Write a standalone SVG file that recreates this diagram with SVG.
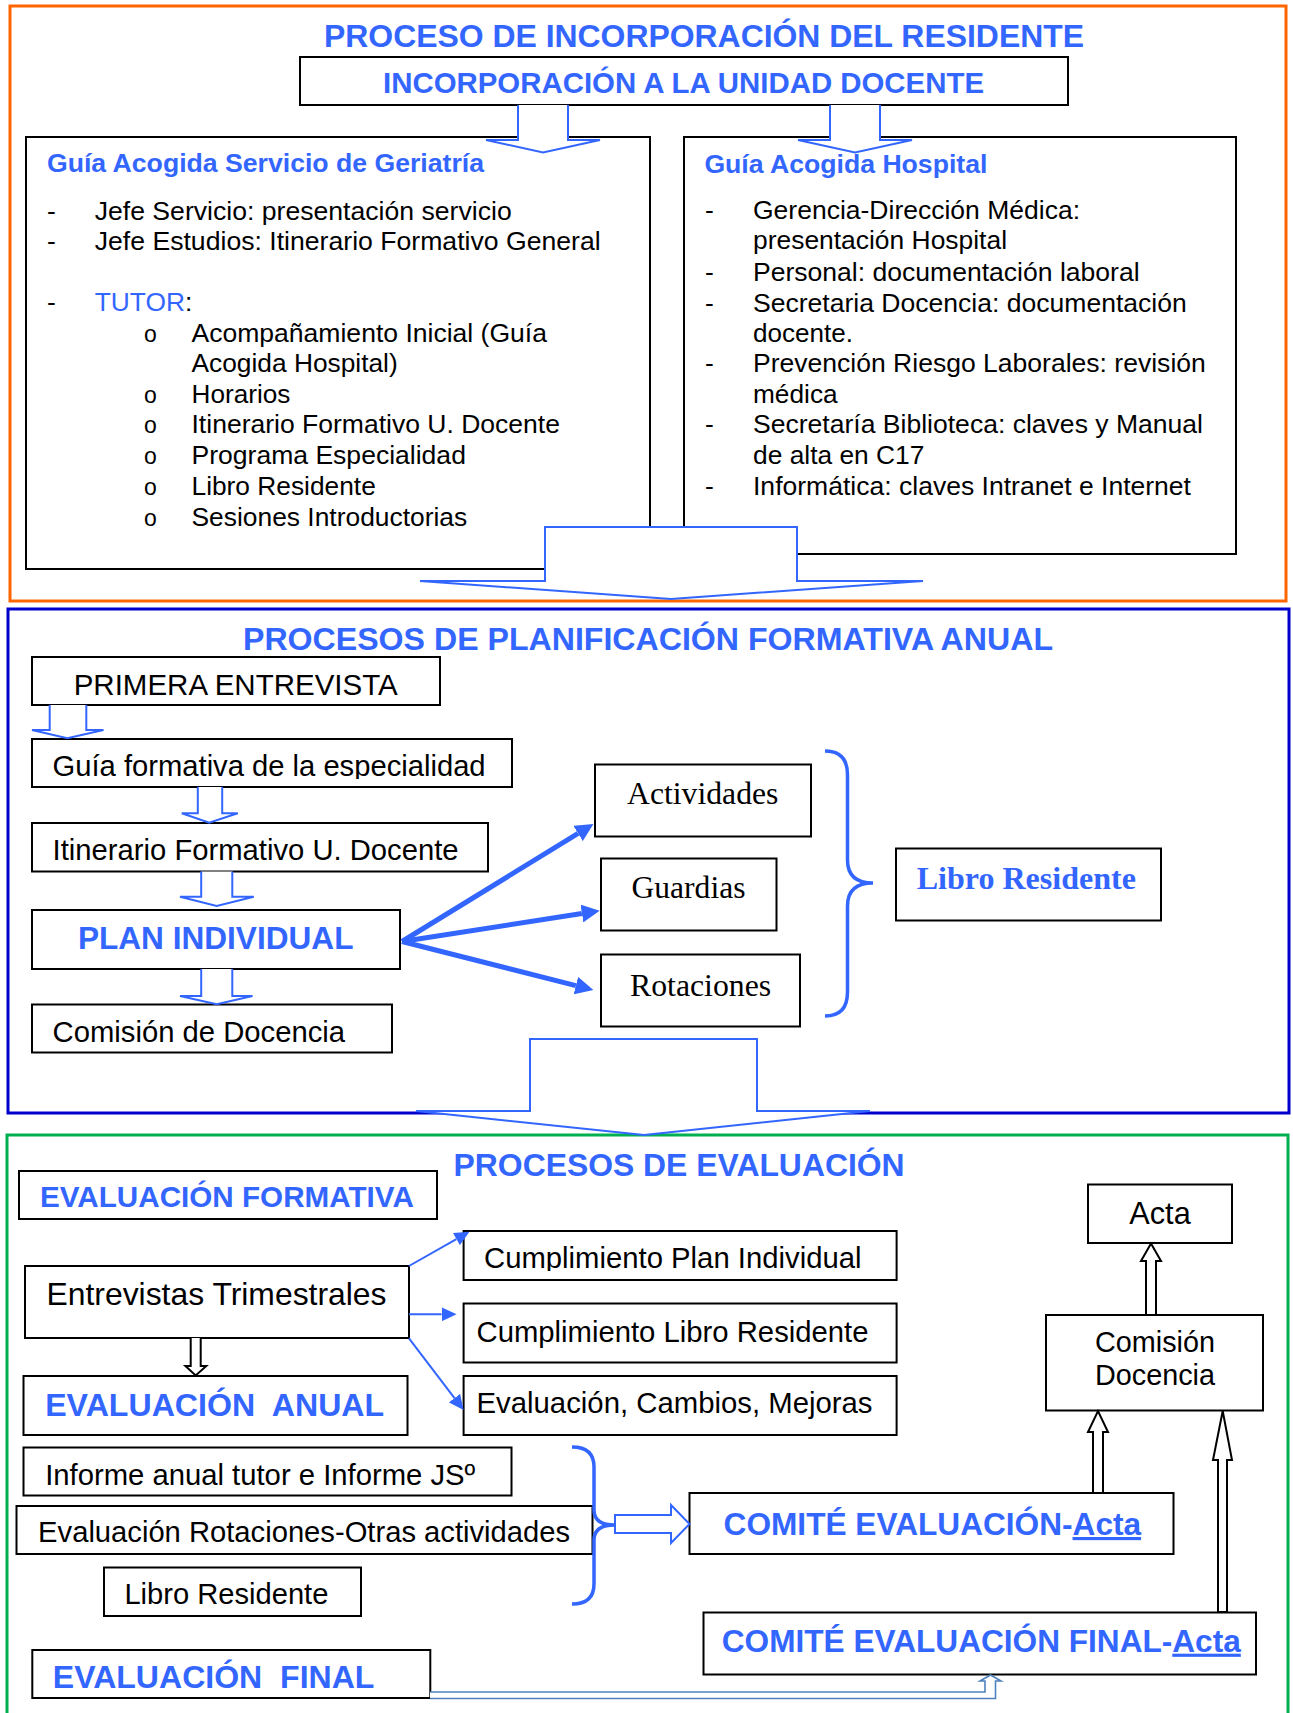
<svg xmlns="http://www.w3.org/2000/svg" width="1293" height="1713" viewBox="0 0 1293 1713">
  <style>
    .t { font-family: "Liberation Sans", Arial, sans-serif; fill: #000; }
    .s { font-family: "Liberation Serif", "Times New Roman", serif; fill: #000; }
    .b { font-weight: bold; fill: #3366FF; }
    .sb { font-weight: bold; fill: #3366FF; }
    .blue { fill: #3366FF; }
    .box { fill: #fff; stroke: #000; stroke-width: 2; }
    .frame { fill: none; stroke-width: 3; }
    .barrow { fill: #fff; stroke: #3366FF; stroke-width: 2; stroke-linejoin: miter; }
    .karrow { fill: #fff; stroke: #000; stroke-width: 2; stroke-linejoin: miter; }
    .brace { fill: none; stroke: #3366FF; stroke-width: 3.5; stroke-linecap: butt; }
    .thick { stroke: #3366FF; stroke-width: 5; fill: none; }
    .thin { stroke: #3366FF; stroke-width: 2; fill: none; }
    .u { text-decoration: underline; }
    .f26 { font-size: 26.4px; }
    .f29 { font-size: 29.2px; }
    text { lengthAdjust: spacingAndGlyphs; }
  </style>
  <defs>
    <marker id="headThick" markerUnits="userSpaceOnUse" markerWidth="19" markerHeight="18" refX="0" refY="9" orient="auto">
      <path d="M0,0 L18,9 L0,18 Z" fill="#3366FF"/>
    </marker>
    <marker id="headThin" markerUnits="userSpaceOnUse" markerWidth="16" markerHeight="14" refX="0" refY="7" orient="auto">
      <path d="M0,0 L15,7 L0,14 Z" fill="#3366FF"/>
    </marker>
    <clipPath id="clipGuia"><rect x="32" y="739" width="480" height="40"/></clipPath>
    <clipPath id="clipCumpl"><rect x="463" y="1231" width="434" height="40"/></clipPath>
  </defs>

  <rect width="1293" height="1713" fill="#fff"/>

  <!-- section frames -->
  <rect class="frame" x="10" y="6" width="1276" height="595" stroke="#FF6600"/>
  <rect class="frame" x="8" y="609" width="1281" height="504" stroke="#0000CC"/>
  <rect class="frame" x="7" y="1135" width="1281" height="600" stroke="#00B050"/>

  <!-- section titles -->
  <text class="t b" x="324" y="47" font-size="31.8" textLength="760" lengthAdjust="spacingAndGlyphs">PROCESO DE INCORPORACIÓN DEL RESIDENTE</text>
  <text class="t b" x="243" y="650" font-size="31.5" textLength="810" lengthAdjust="spacingAndGlyphs">PROCESOS DE PLANIFICACIÓN FORMATIVA ANUAL</text>
  <text class="t b" x="453.6" y="1176" font-size="31.7" textLength="451" lengthAdjust="spacingAndGlyphs">PROCESOS DE EVALUACIÓN</text>

  <!-- ===== Incorporación ===== -->
  <g id="unidad-docente">
    <rect class="box" x="300" y="57" width="768" height="48"/>
    <text class="t b" x="383" y="93" font-size="29.2" textLength="601" lengthAdjust="spacingAndGlyphs">INCORPORACIÓN A LA UNIDAD DOCENTE</text>
  </g>

  <g id="guia-geriatria">
    <rect class="box" x="26" y="137" width="624" height="432"/>
    <text class="t b" x="47" y="171.5" font-size="26.5" textLength="437" lengthAdjust="spacingAndGlyphs">Guía Acogida Servicio de Geriatría</text>
    <g class="t f26">
      <text x="47" y="220">-</text>
      <text x="94.7" y="220" textLength="417" lengthAdjust="spacingAndGlyphs">Jefe Servicio: presentación servicio</text>
      <text x="47" y="249.5">-</text>
      <text x="94.7" y="249.5" textLength="506" lengthAdjust="spacingAndGlyphs">Jefe Estudios: Itinerario Formativo General</text>
      <text x="47" y="311">-</text>
      <text x="94.7" y="311" textLength="97.6" lengthAdjust="spacingAndGlyphs"><tspan class="blue">TUTOR</tspan>:</text>
      <text x="144" y="341.7" font-size="23">o</text>
      <text x="191.5" y="341.7" textLength="355.5" lengthAdjust="spacingAndGlyphs">Acompañamiento Inicial (Guía</text>
      <text x="191.5" y="372.3" textLength="206.2" lengthAdjust="spacingAndGlyphs">Acogida Hospital)</text>
      <text x="144" y="402.7" font-size="23">o</text>
      <text x="191.5" y="402.7" textLength="98.9" lengthAdjust="spacingAndGlyphs">Horarios</text>
      <text x="144" y="433.3" font-size="23">o</text>
      <text x="191.5" y="433.3" textLength="368.5" lengthAdjust="spacingAndGlyphs">Itinerario Formativo U. Docente</text>
      <text x="144" y="464.3" font-size="23">o</text>
      <text x="191.5" y="464.3" textLength="274.4" lengthAdjust="spacingAndGlyphs">Programa Especialidad</text>
      <text x="144" y="495" font-size="23">o</text>
      <text x="191.5" y="495" textLength="184.3" lengthAdjust="spacingAndGlyphs">Libro Residente</text>
      <text x="144" y="525.5" font-size="23">o</text>
      <text x="191.5" y="525.5" textLength="275.7" lengthAdjust="spacingAndGlyphs">Sesiones Introductorias</text>
    </g>
  </g>

  <g id="guia-hospital">
    <rect class="box" x="684" y="137" width="552" height="417"/>
    <text class="t b" x="704.4" y="172.5" font-size="26.5" textLength="283" lengthAdjust="spacingAndGlyphs">Guía Acogida Hospital</text>
    <g class="t f26">
      <text x="705" y="219.3">-</text>
      <text x="753" y="219.3" textLength="327" lengthAdjust="spacingAndGlyphs">Gerencia-Dirección Médica:</text>
      <text x="753" y="249.3" textLength="254" lengthAdjust="spacingAndGlyphs">presentación Hospital</text>
      <text x="705" y="280.7">-</text>
      <text x="753" y="280.7" textLength="386.6" lengthAdjust="spacingAndGlyphs">Personal: documentación laboral</text>
      <text x="705" y="311.7">-</text>
      <text x="753" y="311.7" textLength="433.8" lengthAdjust="spacingAndGlyphs">Secretaria Docencia: documentación</text>
      <text x="753" y="341.7" textLength="100" lengthAdjust="spacingAndGlyphs">docente.</text>
      <text x="705" y="372.3">-</text>
      <text x="753" y="372.3" textLength="452.8" lengthAdjust="spacingAndGlyphs">Prevención Riesgo Laborales: revisión</text>
      <text x="753" y="402.7" textLength="84.6" lengthAdjust="spacingAndGlyphs">médica</text>
      <text x="705" y="433.3">-</text>
      <text x="753" y="433.3" textLength="450" lengthAdjust="spacingAndGlyphs">Secretaría Biblioteca: claves y Manual</text>
      <text x="753" y="464.3" textLength="171.4" lengthAdjust="spacingAndGlyphs">de alta en C17</text>
      <text x="705" y="495">-</text>
      <text x="753" y="495" textLength="438" lengthAdjust="spacingAndGlyphs">Informática: claves Intranet e Internet</text>
    </g>
  </g>

  <!-- ===== Planificación ===== -->
  <g id="primera-entrevista">
    <rect class="box" x="32" y="657" width="408" height="48"/>
    <text class="t f29" x="73.7" y="695" textLength="324" lengthAdjust="spacingAndGlyphs">PRIMERA ENTREVISTA</text>
  </g>
  <g id="guia-formativa">
    <rect class="box" x="32" y="739" width="480" height="48"/>
    <text class="t f29" x="52.6" y="776" textLength="433" lengthAdjust="spacingAndGlyphs" clip-path="url(#clipGuia)">Guía formativa de la especialidad</text>
  </g>
  <g id="itinerario">
    <rect class="box" x="32" y="823" width="456" height="48.5"/>
    <text class="t f29" x="52.6" y="860" textLength="406" lengthAdjust="spacingAndGlyphs">Itinerario Formativo U. Docente</text>
  </g>
  <g id="plan-individual">
    <rect class="box" x="32" y="910" width="368" height="59"/>
    <text class="t b" x="77.9" y="949.3" font-size="31.7" textLength="275.6" lengthAdjust="spacingAndGlyphs">PLAN INDIVIDUAL</text>
  </g>
  <g id="comision-docencia-plan">
    <rect class="box" x="32" y="1004.5" width="360" height="48"/>
    <text class="t f29" x="52.6" y="1041.7" textLength="292.5" lengthAdjust="spacingAndGlyphs">Comisión de Docencia</text>
  </g>
  <g id="actividades">
    <rect class="box" x="595" y="764.5" width="216" height="72"/>
    <text class="s" x="627" y="804" font-size="31.4" textLength="151.4" lengthAdjust="spacingAndGlyphs">Actividades</text>
  </g>
  <g id="guardias">
    <rect class="box" x="601" y="858.5" width="175.5" height="72"/>
    <text class="s" x="631.5" y="898.3" font-size="31.4" textLength="114" lengthAdjust="spacingAndGlyphs">Guardias</text>
  </g>
  <g id="rotaciones">
    <rect class="box" x="601" y="954.5" width="199" height="72"/>
    <text class="s" x="630" y="996" font-size="31.6" textLength="141.2" lengthAdjust="spacingAndGlyphs">Rotaciones</text>
  </g>
  <g id="libro-residente-plan">
    <rect class="box" x="896" y="848.5" width="265" height="72"/>
    <text class="s sb" x="916.7" y="889.3" font-size="32" textLength="219.3" lengthAdjust="spacingAndGlyphs">Libro Residente</text>
  </g>

  <!-- ===== Evaluación ===== -->
  <g id="evaluacion-formativa">
    <rect class="box" x="19" y="1171" width="418" height="48"/>
    <text class="t b" x="40" y="1207.3" font-size="29.1" textLength="373.8" lengthAdjust="spacingAndGlyphs">EVALUACIÓN FORMATIVA</text>
  </g>
  <g id="entrevistas">
    <rect class="box" x="25" y="1266" width="384" height="72"/>
    <text class="t" x="46.5" y="1305" font-size="31.7" textLength="340" lengthAdjust="spacingAndGlyphs">Entrevistas Trimestrales</text>
  </g>
  <g id="evaluacion-anual">
    <rect class="box" x="23.5" y="1376" width="384" height="59"/>
    <text class="t b" x="45.2" y="1416" font-size="31.8" textLength="339" lengthAdjust="spacingAndGlyphs">EVALUACIÓN&#160; ANUAL</text>
  </g>
  <g id="cumplimiento-plan">
    <rect class="box" x="463.6" y="1231" width="433" height="49"/>
    <text class="t" x="484" y="1268.3" font-size="29.3" textLength="377.5" lengthAdjust="spacingAndGlyphs" clip-path="url(#clipCumpl)">Cumplimiento Plan Individual</text>
  </g>
  <g id="cumplimiento-libro">
    <rect class="box" x="463.6" y="1303.5" width="433" height="59"/>
    <text class="t" x="476.5" y="1341.7" font-size="29.3" textLength="392" lengthAdjust="spacingAndGlyphs">Cumplimiento Libro Residente</text>
  </g>
  <g id="evaluacion-cambios">
    <rect class="box" x="463.6" y="1376" width="433" height="59"/>
    <text class="t" x="476.5" y="1412.5" font-size="29.3" textLength="396" lengthAdjust="spacingAndGlyphs">Evaluación, Cambios, Mejoras</text>
  </g>
  <g id="informe-anual">
    <rect class="box" x="23.5" y="1447.5" width="488" height="48"/>
    <text class="t f29" x="45.2" y="1485" textLength="430" lengthAdjust="spacingAndGlyphs">Informe anual tutor e Informe JSº</text>
  </g>
  <g id="evaluacion-rotaciones">
    <rect class="box" x="16.5" y="1506" width="576" height="48"/>
    <text class="t" x="38.1" y="1541.7" font-size="29.3" textLength="532" lengthAdjust="spacingAndGlyphs">Evaluación Rotaciones-Otras actividades</text>
  </g>
  <g id="libro-residente-eval">
    <rect class="box" x="104" y="1567.5" width="257" height="48.5"/>
    <text class="t f29" x="124.4" y="1604" textLength="204" lengthAdjust="spacingAndGlyphs">Libro Residente</text>
  </g>
  <g id="comite-evaluacion">
    <rect class="box" x="689.5" y="1493" width="484" height="61"/>
    <text class="t b" x="723.6" y="1535" font-size="31.5" textLength="417.5" lengthAdjust="spacingAndGlyphs">COMITÉ EVALUACIÓN-<tspan class="u">Acta</tspan></text>
  </g>
  <g id="comite-final">
    <rect class="box" x="703.5" y="1612.5" width="552.5" height="62"/>
    <text class="t b" x="721.8" y="1651.7" font-size="31.5" textLength="519" lengthAdjust="spacingAndGlyphs">COMITÉ EVALUACIÓN FINAL-<tspan class="u">Acta</tspan></text>
  </g>
  <g id="evaluacion-final">
    <rect class="box" x="32.3" y="1650" width="398" height="48"/>
    <text class="t b" x="52.8" y="1688.3" font-size="31.8" textLength="321.6" lengthAdjust="spacingAndGlyphs">EVALUACIÓN&#160; FINAL</text>
  </g>
  <g id="comision-docencia">
    <rect class="box" x="1046" y="1315" width="217" height="95.5"/>
    <text class="t" x="1155" y="1351.5" font-size="28.8" text-anchor="middle">Comisión</text>
    <text class="t" x="1155" y="1384.7" font-size="28.8" text-anchor="middle">Docencia</text>
  </g>
  <g id="acta">
    <rect class="box" x="1088" y="1184.5" width="144" height="58.5"/>
    <text class="t" x="1160" y="1224" font-size="30.7" text-anchor="middle">Acta</text>
  </g>

  <!-- ===== connectors ===== -->
  <g id="connectors">
    <!-- block arrows, incorporación -->
    <path class="barrow" d="M518,105 V140 H486 L543,152.5 L600,140 H568 V105"/>
    <path class="barrow" d="M830,105 V140 H798 L855,152.5 L912,140 H880 V105"/>
    <path class="barrow" d="M545,527 V581 H420 L671,599 L923,581 H797 V527 Z"/>

    <!-- block arrows, planificación -->
    <path class="barrow" d="M49.7,705 V730 H32 L67.3,738.3 L103.5,730 H86.3 V705"/>
    <path class="barrow" d="M197.8,787 V813.3 H181.8 L209.2,822.7 L237.8,813.3 H222.2 V787"/>
    <path class="barrow" d="M201.2,871.5 V896.7 H180 L216.7,906 L253.8,896.7 H232.3 V871.5"/>
    <path class="barrow" d="M201.2,969 V996 H180 L216.7,1004.3 L252.5,996 H232.3 V969"/>
    <path class="barrow" d="M530,1039 V1111 H416 L644,1135 L870,1111 H757 V1039 Z"/>

    <!-- plan individual fan-out -->
    <line class="thick" x1="402" y1="941.5" x2="578.1" y2="833.4" marker-end="url(#headThick)"/>
    <line class="thick" x1="402" y1="941.5" x2="581.9" y2="913.5" marker-end="url(#headThick)"/>
    <line class="thick" x1="402" y1="941.5" x2="575.9" y2="985.6" marker-end="url(#headThick)"/>

    <!-- brace to Libro Residente -->
    <path class="brace" d="M825,751 Q847.5,751 847.5,775 V860 Q847.5,883 873,883 Q847.5,883 847.5,906 V992 Q847.5,1016 825,1016"/>

    <!-- entrevistas fan-out -->
    <line class="thin" x1="409" y1="1266" x2="456.4" y2="1239.1" marker-end="url(#headThin)"/>
    <line class="thin" x1="409" y1="1314.3" x2="441.6" y2="1314.3" marker-end="url(#headThin)"/>
    <line class="thin" x1="409" y1="1338.3" x2="454.5" y2="1398.1" marker-end="url(#headThin)"/>

    <!-- entrevistas down to evaluación anual -->
    <path class="karrow" d="M190.7,1338 V1366 H185.4 L195.7,1375.5 L206.3,1366 H200.7 V1338"/>

    <!-- brace and arrow to comité evaluación -->
    <path class="brace" d="M572,1447 Q594,1447 594,1467 V1510 Q594,1525 615,1525 Q594,1525 594,1540 V1584 Q594,1604 572,1604"/>
    <path class="barrow" d="M615,1515 H671 V1505 L689.5,1524 L671,1543 V1533 H615 Z"/>

    <!-- upward arrows to comisión and acta -->
    <path class="karrow" d="M1093,1493 V1432 H1088 L1098,1411 L1108,1432 H1103 V1493 Z"/>
    <path class="karrow" d="M1146,1315 V1261 H1141 L1151,1243.5 L1161,1261 H1156 V1315 Z"/>
    <path class="karrow" d="M1218,1612 V1460 H1213 L1222.7,1411 L1232,1460 H1227 V1612 Z"/>

    <!-- evaluación final to comité final -->
    <path d="M430,1692 H985 V1681 H980 L990.5,1675 L1001,1681 H995.5 V1698.5 H430" fill="#fff" stroke="#4F81BD" stroke-width="1.6"/>
  </g>
</svg>
